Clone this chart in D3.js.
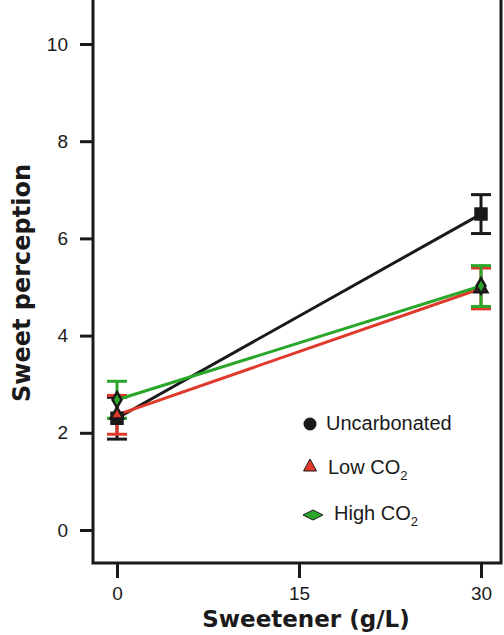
<!DOCTYPE html>
<meta charset="utf-8">
<script src="https://d3js.org/d3.v7.min.js"></script>
<div id="chart"></div>
<style>
	body {
		margin: 0;
		padding: 0;
		background: #fff;
		overflow: hidden;
	}
</style>
<script>
	// sweetener levels (g/L)
	const doses = [0, 30];
	const uncarbonated = [2.3, 6.5];
	const uncarbonatedErr = [0.43, 0.4];
	const lowCO2 = [2.37, 4.97];
	const lowCO2Err = [0.4, 0.42];
	const highCO2 = [2.68, 5.02];
	const highCO2Err = [0.38, 0.42];
	const yTicks = [0, 2, 4, 6, 8, 10];
	const xTicks = [0, 15, 30];

	const W = 504, H = 635;
	const svg = d3.select("#chart").append("svg")
		.attr("width", W)
		.attr("height", H)
		.style("font-family", "'Liberation Sans', Arial, sans-serif");

	const x = d3.scaleLinear().domain([0, 30]).range([117, 481]);
	const y = d3.scaleLinear().domain([0, 10]).range([530, 44]);

	const frame = { left: 93, right: 501, top: 0, bottom: 563 };

	// frame (open at the top, the figure is cropped there)
	svg.append("path")
		.attr("d", `M${frame.left},${frame.top}V${frame.bottom}H${frame.right}V${frame.top}`)
		.attr("fill", "none")
		.attr("stroke", "#1a1a1a")
		.attr("stroke-width", 3);

	const yAxis = svg.append("g")
		.attr("transform", `translate(${frame.left},0)`)
		.call(d3.axisLeft(y).tickValues(yTicks).tickSize(13).tickPadding(12));
	yAxis.select(".domain").remove();
	yAxis.selectAll("line").attr("stroke", "#1a1a1a").attr("stroke-width", 3);
	yAxis.selectAll("text").attr("font-size", 19).attr("fill", "#1a1a1a")
		.style("font-family", "'Liberation Sans', Arial, sans-serif");

	const xAxis = svg.append("g")
		.attr("transform", `translate(0,${frame.bottom})`)
		.call(d3.axisBottom(x).tickValues(xTicks).tickSize(15).tickPadding(10));
	xAxis.select(".domain").remove();
	xAxis.selectAll("line").attr("stroke", "#1a1a1a").attr("stroke-width", 3);
	xAxis.selectAll("text").attr("font-size", 19).attr("fill", "#1a1a1a")
		.attr("dy", "0.62em")
		.style("font-family", "'Liberation Sans', Arial, sans-serif");

	svg.append("text")
		.attr("transform", `translate(30,283) rotate(-90)`)
		.attr("text-anchor", "middle")
		.style("font-family", "'DejaVu Sans', Verdana, sans-serif")
		.attr("font-weight", "bold")
		.attr("font-size", 24)
		.attr("fill", "#1a1a1a")
		.text("Sweet perception");

	svg.append("text")
		.attr("x", 306)
		.attr("y", 627)
		.attr("text-anchor", "middle")
		.style("font-family", "'DejaVu Sans', Verdana, sans-serif")
		.attr("font-weight", "bold")
		.attr("font-size", 23)
		.attr("fill", "#1a1a1a")
		.text("Sweetener (g/L)");

	const series = [
		{ name: "Uncarbonated", values: uncarbonated, err: uncarbonatedErr, color: "#1a1a1a", shape: "square" },
		{ name: "Low CO2", values: lowCO2, err: lowCO2Err, color: "#e0382a", shape: "triangle" },
		{ name: "High CO2", values: highCO2, err: highCO2Err, color: "#2aa72a", shape: "diamond" },
	];

	const line = d3.line().x(d => x(d.x)).y(d => y(d.y));
	const capW = 10;

	// error bars and lines
	for (const s of series) {
		const pts = doses.map((d, i) => ({ x: d, y: s.values[i], e: s.err[i] }));
		const g = svg.append("g");
		for (const p of pts) {
			const cx = x(p.x);
			g.append("line").attr("x1", cx).attr("x2", cx)
				.attr("y1", y(p.y - p.e)).attr("y2", y(p.y + p.e))
				.attr("stroke", s.color).attr("stroke-width", 3);
			for (const v of [p.y - p.e, p.y + p.e]) {
				g.append("line").attr("x1", cx - capW).attr("x2", cx + capW)
					.attr("y1", y(v)).attr("y2", y(v))
					.attr("stroke", s.color).attr("stroke-width", 3);
			}
		}
		g.append("path").datum(pts)
			.attr("d", line)
			.attr("fill", "none")
			.attr("stroke", s.color)
			.attr("stroke-width", 3);
	}

	// markers
	const shapePath = {
		square: d3.symbol().type(d3.symbolSquare).size(120),
		triangle: d3.symbol().type(d3.symbolTriangle).size(70),
		diamond: d3.symbol().type(d3.symbolDiamond).size(70),
	};
	for (const s of series) {
		svg.append("g").selectAll("path")
			.data(doses.map((d, i) => ({ x: d, y: s.values[i] })))
			.join("path")
			.attr("transform", d => `translate(${x(d.x)},${y(d.y)})`)
			.attr("d", shapePath[s.shape]())
			.attr("fill", s.shape === "square" ? "#1a1a1a" : s.color)
			.attr("stroke", "#1a1a1a")
			.attr("stroke-width", 2.5);
	}

	// legend
	const legend = svg.append("g").attr("fill", "#1a1a1a");
	legend.append("circle").attr("cx", 310).attr("cy", 424).attr("r", 6.5).attr("fill", "#1a1a1a");
	legend.append("text").attr("x", 326).attr("y", 430).attr("font-size", 20).text("Uncarbonated");

	legend.append("path")
		.attr("d", "M310,459L316.5,471L303.5,471Z")
		.attr("fill", "#e0382a").attr("stroke", "#1a1a1a").attr("stroke-width", 1);
	const t2 = legend.append("text").attr("x", 328).attr("y", 474).attr("font-size", 20);
	t2.append("tspan").text("Low CO");
	t2.append("tspan").attr("font-size", 13).attr("dy", 6).text("2");

	legend.append("path")
		.attr("d", "M303,515L313,510L323,515L313,520Z")
		.attr("fill", "#2aa72a").attr("stroke", "#1a1a1a").attr("stroke-width", 1);
	const t3 = legend.append("text").attr("x", 334).attr("y", 520).attr("font-size", 20);
	t3.append("tspan").text("High CO");
	t3.append("tspan").attr("font-size", 13).attr("dy", 6).text("2");
</script>
